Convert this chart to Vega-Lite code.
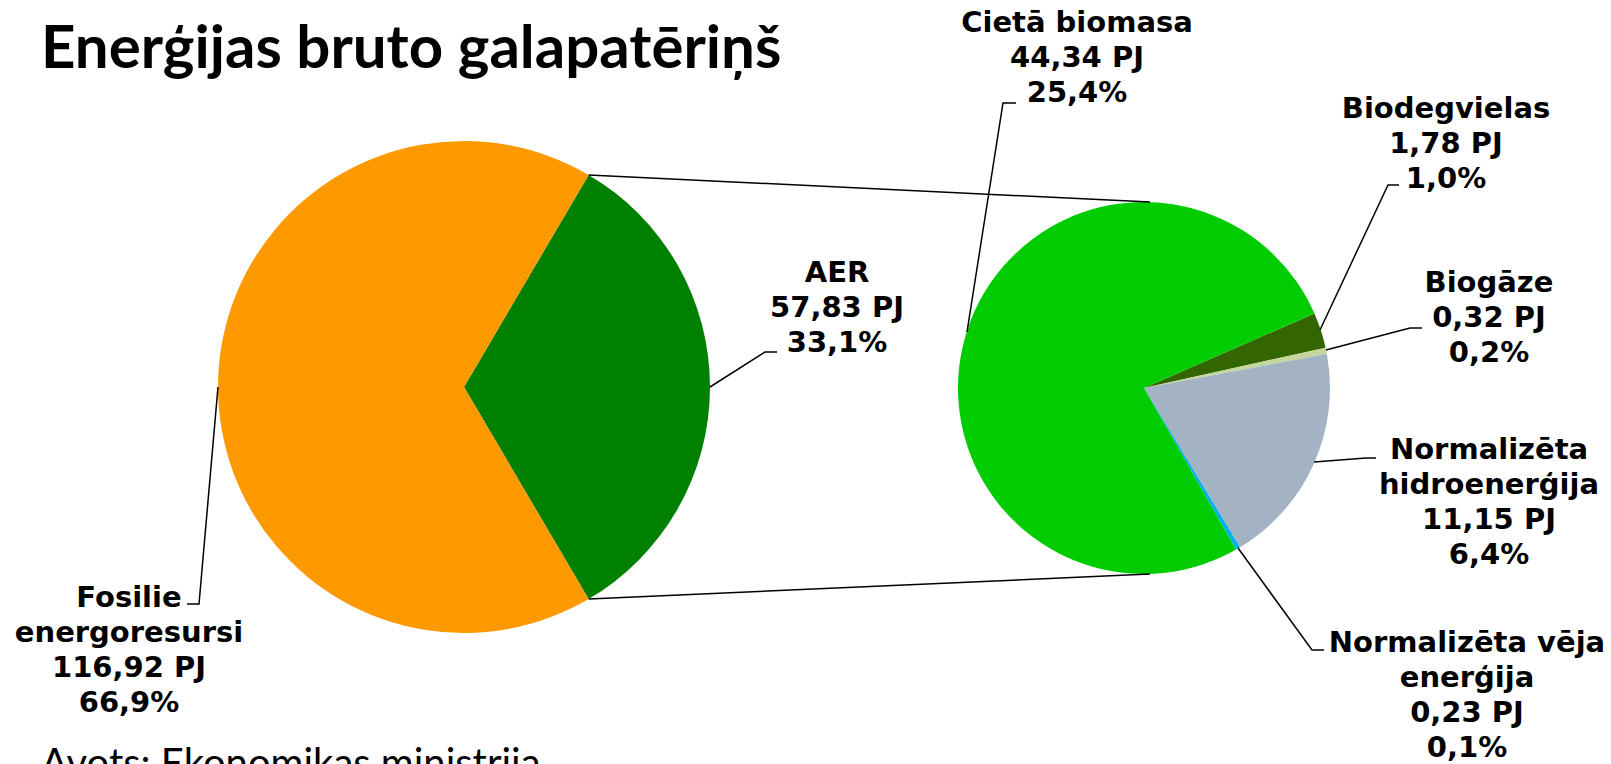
{
  "$schema": "https://vega.github.io/schema/vega-lite/v6.json",
  "width": 1611,
  "height": 764,
  "autosize": {"type": "none"},
  "padding": 0,
  "background": "white",
  "config": {"view": {"stroke": null}},
  "datasets": {
    "main": [
      {"cat": "AER", "val": 57.83, "ord": 1},
      {"cat": "Fosilie energoresursi", "val": 116.92, "ord": 2}
    ],
    "aer": [
      {"cat": "Biodegvielas", "val": 1.78, "ord": 1},
      {"cat": "Biogāze", "val": 0.32, "ord": 2},
      {"cat": "Normalizēta hidroenerģija", "val": 11.15, "ord": 3},
      {"cat": "Normalizēta vēja enerģija", "val": 0.23, "ord": 4},
      {"cat": "Cietā biomasa", "val": 44.34, "ord": 5}
    ],
    "labels": [
      {"label": "Cietā biomasa\n44,34 PJ\n25,4%", "lx": 1077, "ly": 32},
      {"label": "Biodegvielas\n1,78 PJ\n1,0%", "lx": 1446, "ly": 118},
      {"label": "Biogāze\n0,32 PJ\n0,2%", "lx": 1489, "ly": 292},
      {"label": "Normalizēta\nhidroenerģija\n11,15 PJ\n6,4%", "lx": 1489, "ly": 459},
      {"label": "Normalizēta vēja\nenerģija\n0,23 PJ\n0,1%", "lx": 1467, "ly": 652},
      {"label": "AER\n57,83 PJ\n33,1%", "lx": 837, "ly": 282},
      {"label": "Fosilie\nenergoresursi\n116,92 PJ\n66,9%", "lx": 129, "ly": 607}
    ],
    "titles": [
      {"t": "Enerģijas bruto galapatēriņš", "tx": 41, "ty": 68}
    ],
    "notes": [
      {"t": "Avots: Ekonomikas ministrija", "tx": 41, "ty": 777}
    ],
    "leaders": [
      {"id": "c1", "seq": 1, "px": 588.6, "py": 175},
      {"id": "c1", "seq": 2, "px": 1150, "py": 202},
      {"id": "c2", "seq": 1, "px": 588.6, "py": 599},
      {"id": "c2", "seq": 2, "px": 1150, "py": 574},
      {"id": "cb", "seq": 1, "px": 967, "py": 332},
      {"id": "cb", "seq": 2, "px": 1003, "py": 103},
      {"id": "cb", "seq": 3, "px": 1016, "py": 103},
      {"id": "bd", "seq": 1, "px": 1320, "py": 330},
      {"id": "bd", "seq": 2, "px": 1388, "py": 185},
      {"id": "bd", "seq": 3, "px": 1399, "py": 185},
      {"id": "bg", "seq": 1, "px": 1326, "py": 350},
      {"id": "bg", "seq": 2, "px": 1410, "py": 328},
      {"id": "bg", "seq": 3, "px": 1422, "py": 328},
      {"id": "hd", "seq": 1, "px": 1314, "py": 462},
      {"id": "hd", "seq": 2, "px": 1366, "py": 458},
      {"id": "hd", "seq": 3, "px": 1376, "py": 458},
      {"id": "vj", "seq": 1, "px": 1238, "py": 548},
      {"id": "vj", "seq": 2, "px": 1312, "py": 650},
      {"id": "vj", "seq": 3, "px": 1324, "py": 650},
      {"id": "ae", "seq": 1, "px": 710, "py": 387},
      {"id": "ae", "seq": 2, "px": 765, "py": 352},
      {"id": "ae", "seq": 3, "px": 777, "py": 352},
      {"id": "fo", "seq": 1, "px": 218, "py": 387},
      {"id": "fo", "seq": 2, "px": 199, "py": 604},
      {"id": "fo", "seq": 3, "px": 187, "py": 604}
    ]
  },
  "resolve": {"scale": {"theta": "independent"}},
  "layer": [
    {
      "data": {"name": "main"},
      "mark": {"type": "arc", "outerRadius": 246},
      "encoding": {
        "x": {"datum": 464, "type": "quantitative", "scale": {"domain": [0, 1611], "nice": false, "zero": false}, "axis": null},
        "y": {"datum": 387, "type": "quantitative", "scale": {"domain": [0, 764], "nice": false, "zero": false, "reverse": true}, "axis": null},
        "theta": {"field": "val", "type": "quantitative", "stack": true, "scale": {"range": [0.5312, 6.8144]}},
        "order": {"field": "ord", "type": "quantitative"},
        "color": {
          "field": "cat", "type": "nominal", "legend": null,
          "scale": {
            "domain": ["AER", "Fosilie energoresursi", "Cietā biomasa", "Biodegvielas", "Biogāze", "Normalizēta hidroenerģija", "Normalizēta vēja enerģija"],
            "range": ["#008000", "#FF9900", "#00CC00", "#336600", "#C3D69B", "#A3B3C3", "#00B0F0"]
          }
        }
      }
    },
    {
      "data": {"name": "aer"},
      "mark": {"type": "arc", "outerRadius": 186},
      "encoding": {
        "x": {"datum": 1144, "type": "quantitative"},
        "y": {"datum": 388, "type": "quantitative"},
        "theta": {"field": "val", "type": "quantitative", "stack": true, "scale": {"range": [1.1589, 7.4421]}},
        "order": {"field": "ord", "type": "quantitative"},
        "color": {"field": "cat", "type": "nominal", "legend": null}
      }
    },
    {
      "data": {"name": "leaders"},
      "mark": {"type": "line", "stroke": "black", "strokeWidth": 1.5, "interpolate": "linear"},
      "encoding": {
        "x": {"field": "px", "type": "quantitative"},
        "y": {"field": "py", "type": "quantitative"},
        "detail": {"field": "id", "type": "nominal"},
        "order": {"field": "seq", "type": "quantitative"}
      }
    },
    {
      "data": {"name": "labels"},
      "mark": {"type": "text", "font": "DejaVu Sans", "fontWeight": "bold", "fontSize": 29, "lineHeight": 35, "align": "center", "baseline": "alphabetic", "lineBreak": "\n", "color": "black"},
      "encoding": {
        "x": {"field": "lx", "type": "quantitative"},
        "y": {"field": "ly", "type": "quantitative"},
        "text": {"field": "label", "type": "nominal"}
      }
    },
    {
      "data": {"name": "titles"},
      "mark": {"type": "text", "font": "Lato", "fontWeight": "bold", "fontSize": 60, "align": "left", "baseline": "alphabetic", "color": "black"},
      "encoding": {
        "x": {"field": "tx", "type": "quantitative"},
        "y": {"field": "ty", "type": "quantitative"},
        "text": {"field": "t", "type": "nominal"}
      }
    },
    {
      "data": {"name": "notes"},
      "mark": {"type": "text", "font": "Lato", "fontSize": 40, "align": "left", "baseline": "alphabetic", "color": "black"},
      "encoding": {
        "x": {"field": "tx", "type": "quantitative"},
        "y": {"field": "ty", "type": "quantitative"},
        "text": {"field": "t", "type": "nominal"}
      }
    }
  ]
}
